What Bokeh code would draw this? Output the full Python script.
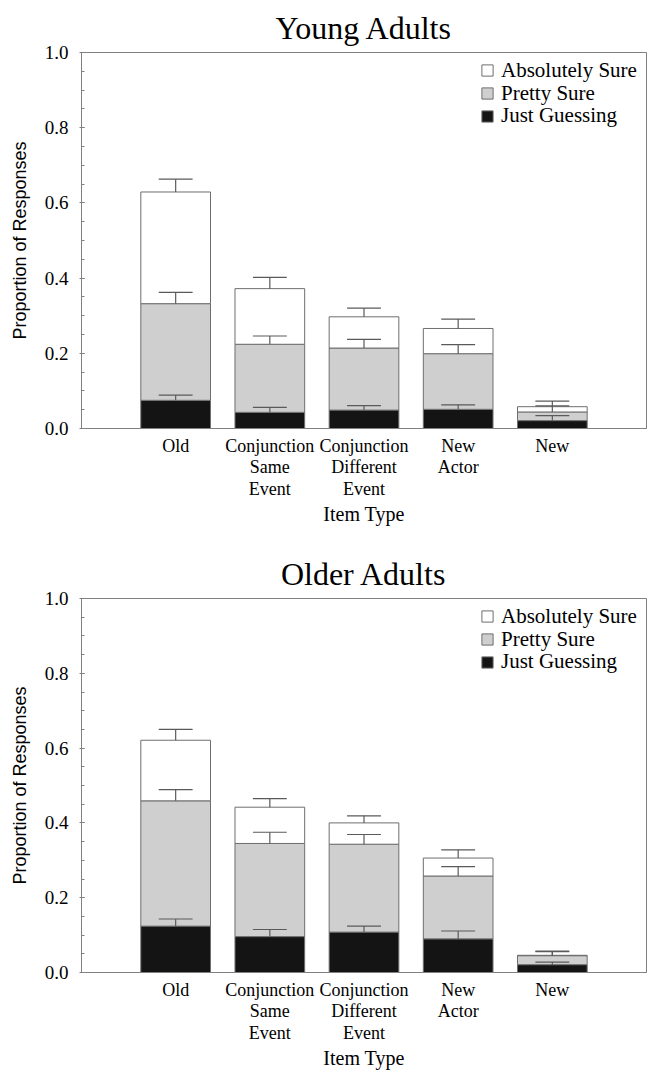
import numpy as np
from bokeh.plotting import figure
from bokeh.models import Range1d, FixedTicker, Legend, LegendItem
from bokeh.layouts import column
from bokeh.embed import file_html
from bokeh.resources import INLINE

# ---------------- data ----------------
item_types = ["Old", "Conjunction\nSame\nEvent", "Conjunction\nDifferent\nEvent", "New\nActor", "New"]
confidence_labels = ["Absolutely Sure", "Pretty Sure", "Just Guessing"]
y_ticks = [0.0, 0.2, 0.4, 0.6, 0.8, 1.0]
y_tick_labels = ["0.0", "0.2", "0.4", "0.6", "0.8", "1.0"]

# Young adults: segment proportions (stacked: guessing, pretty, absolutely)
young_guess = [0.075, 0.043, 0.049, 0.051, 0.021]
young_pretty = [0.257, 0.181, 0.165, 0.148, 0.023]
young_absolute = [0.297, 0.148, 0.083, 0.067, 0.014]
young_guess_err = [0.014, 0.013, 0.012, 0.012, 0.013]
young_pretty_err = [0.030, 0.022, 0.023, 0.024, 0.016]
young_absolute_err = [0.034, 0.030, 0.023, 0.025, 0.015]

# Older adults
older_guess = [0.124, 0.096, 0.108, 0.090, 0.021]
older_pretty = [0.335, 0.249, 0.235, 0.168, 0.024]
older_absolute = [0.162, 0.097, 0.057, 0.048, 0.001]
older_guess_err = [0.019, 0.019, 0.016, 0.021, 0.007]
older_pretty_err = [0.030, 0.030, 0.026, 0.025, 0.011]
older_absolute_err = [0.029, 0.023, 0.019, 0.022, 0.011]

SERIF = "Liberation Serif"
GRAY = "#808080"


def make_panel(title, guess, pretty, absolute, g_err, p_err, a_err, frame_h, bottom_border):
    x = np.arange(1, len(item_types) + 1)
    p = figure(frame_width=565, frame_height=frame_h, x_range=Range1d(0, 6), y_range=Range1d(0, 1),
               output_backend="svg", toolbar_location=None,
               min_border_left=81, min_border_right=2, min_border_top=52,
               min_border_bottom=bottom_border)
    p.title.text = title
    p.title.align = "center"
    p.title.text_font = SERIF
    p.title.text_font_size = "32px"
    p.title.text_font_style = "normal"
    p.title.text_color = "black"
    p.title.standoff = 14

    p.grid.visible = False
    p.outline_line_color = GRAY
    p.background_fill_color = "white"

    g = np.array(guess)
    pr = np.array(pretty)
    ab = np.array(absolute)
    tops = [g, g + pr, g + pr + ab]
    bottoms = [np.zeros_like(g), g, g + pr]
    fills = ["#141414", "#cfcfcf", "#ffffff"]
    rends = []
    for b, t, f in zip(bottoms, tops, fills):
        r = p.vbar(x=x, bottom=b, top=t, width=0.74, fill_color=f, line_color="#6e6e6e", line_width=1)
        rends.append(r)

    for t, e in zip(tops, [g_err, p_err, a_err]):
        e = np.array(e)
        p.segment(x0=x, y0=t, x1=x, y1=t + e, line_color="#5a5a5a", line_width=1.2)
        p.segment(x0=x - 0.18, y0=t + e, x1=x + 0.18, y1=t + e, line_color="#5a5a5a", line_width=1.2)

    # one legend per row so the rows can sit as tight as in the original
    row_rends = [rends[2], rends[1], rends[0]]
    row_center_from_top = [18.4, 41.0, 63.7]
    for lab, r, c in zip(confidence_labels, row_rends, row_center_from_top):
        lg = Legend(items=[LegendItem(label=lab, renderers=[r])],
                    location=(399, frame_h - (c + 12.5)))
        lg.border_line_color = None
        lg.background_fill_alpha = 0
        lg.label_text_font = SERIF
        lg.label_text_font_size = "21px"
        lg.label_text_color = "black"
        lg.label_height = 18
        lg.glyph_width = 14
        lg.glyph_height = 14
        lg.label_standoff = 7
        lg.spacing = 0
        lg.padding = 0
        lg.margin = 0
        p.add_layout(lg)

    # y axis
    ya = p.yaxis[0]
    ya.ticker = FixedTicker(ticks=y_ticks, minor_ticks=[i * 0.05 for i in range(21)])
    ya.major_label_overrides = {t: l for t, l in zip(y_ticks, y_tick_labels)}
    ya.major_label_text_font = SERIF
    ya.major_label_text_font_size = "19px"
    ya.major_label_text_color = "black"
    ya.major_label_standoff = 11
    ya.axis_line_color = GRAY
    ya.major_tick_line_color = GRAY
    ya.minor_tick_line_color = GRAY
    ya.major_tick_in = 3
    ya.major_tick_out = 2
    ya.minor_tick_in = 3
    ya.minor_tick_out = 0
    ya.axis_label = "Proportion of Responses"
    ya.axis_label_text_font = "Liberation Sans"
    ya.axis_label_text_font_size = "18px"
    ya.axis_label_text_font_style = "normal"
    ya.axis_label_text_color = "black"
    ya.axis_label_standoff = 12

    # x axis
    xa = p.xaxis[0]
    xa.ticker = FixedTicker(ticks=list(x), minor_ticks=[])
    xa.major_label_overrides = {int(i): lab for i, lab in zip(x, item_types)}
    xa.major_label_text_font = SERIF
    xa.major_label_text_font_size = "18px"
    xa.major_label_text_line_height = 1.08
    xa.major_label_text_color = "black"
    xa.major_label_standoff = 7
    xa.axis_line_color = GRAY
    xa.major_tick_line_color = None
    xa.minor_tick_line_color = None
    xa.major_tick_in = 0
    xa.major_tick_out = 0
    xa.axis_label = "Item Type"
    xa.axis_label_text_font = SERIF
    xa.axis_label_text_font_size = "20px"
    xa.axis_label_text_font_style = "normal"
    xa.axis_label_text_color = "black"
    xa.axis_label_standoff = 1
    return p


p1 = make_panel("Young Adults", young_guess, young_pretty, young_absolute,
                young_guess_err, young_pretty_err, young_absolute_err, 376, 118)
p2 = make_panel("Older Adults", older_guess, older_pretty, older_absolute,
                older_guess_err, older_pretty_err, older_absolute_err, 374, 90)

layout = column(p1, p2, spacing=0)
open("out.html", "w").write(file_html(layout, INLINE))
